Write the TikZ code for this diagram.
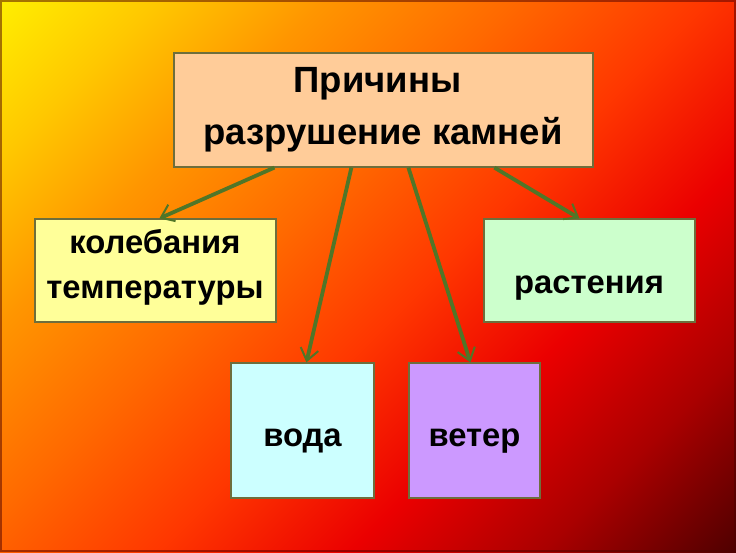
\documentclass[tikz,border=0pt]{standalone}
\usepackage{fontspec}
\setmainfont{Liberation Sans}
\usetikzlibrary{arrows.meta}
\definecolor{bgA}{RGB}{255,238,0}
\definecolor{bgB}{RGB}{255,200,0}
\definecolor{bgC}{RGB}{255,150,0}
\definecolor{bgD}{RGB}{255,105,0}
\definecolor{bgE}{RGB}{255,55,0}
\definecolor{bgF}{RGB}{235,0,0}
\definecolor{bgG}{RGB}{170,0,0}
\definecolor{bgH}{RGB}{80,0,0}
\definecolor{boxline}{RGB}{110,110,60}
\definecolor{arrowc}{RGB}{80,118,40}
\definecolor{peach}{RGB}{255,204,153}
\definecolor{lyellow}{RGB}{255,255,153}
\definecolor{lgreen}{RGB}{204,255,204}
\definecolor{lcyan}{RGB}{204,255,255}
\definecolor{lviolet}{RGB}{204,153,255}
\pgfdeclarehorizontalshading{slidebg}{100bp}{%
  color(0bp)=(bgA); color(14.6bp)=(bgA); color(23.1bp)=(bgB);
  color(32.3bp)=(bgC); color(42.9bp)=(bgD); color(53.5bp)=(bgE);
  color(64.2bp)=(bgF); color(74.8bp)=(bgG); color(85.4bp)=(bgH);
  color(100bp)=(bgH)}
\tikzset{
  box/.style={draw=boxline, line width=1.2pt, rectangle, inner sep=0pt},
  lbl/.style={anchor=base, inner sep=0pt, font=\fontsize{32.8}{38}\selectfont\bfseries},
  biglbl/.style={anchor=base, inner sep=0pt, font=\fontsize{36.5}{42}\selectfont\bfseries},
  arr/.style={draw=arrowc, line width=3.8pt,
    -{Straight Barb[length=12pt,width=18pt,line width=2pt]}},
}
\begin{document}
\begin{tikzpicture}[x=1pt,y=-1pt]
\useasboundingbox (0,0) rectangle (736,552);
\shade[shading=slidebg, shading angle=-45] (0,0) rectangle (736,552);
\draw[black!70!red, opacity=0.5, line width=1.2pt] (1,1) rectangle (735,551);
% boxes
\node[box, fill=peach, minimum width=419pt, minimum height=114pt] (top) at (383.5,110) {};
\node[box, fill=lyellow, minimum width=241pt, minimum height=103pt] (kol) at (155.5,270.5) {};
\node[box, fill=lgreen, minimum width=211pt, minimum height=103pt] (rast) at (589.5,270.5) {};
\node[box, fill=lcyan, minimum width=143pt, minimum height=135pt] (voda) at (302.5,430.5) {};
\node[box, fill=lviolet, minimum width=131pt, minimum height=135pt] (veter) at (474.5,430.5) {};
% labels
\node[biglbl] (t1) at (377.5,92) {Причины};
\node[biglbl] (t2) at (383,144) {разрушение камней};
\node[lbl] (k1) at (155,253) {колебания};
\node[lbl] (k2) at (155,298) {температуры};
\node[lbl] (r1) at (589,293) {растения};
\node[lbl] (v1) at (302.5,446) {вода};
\node[lbl] (w1) at (474.5,446) {ветер};
% arrow anchors
\coordinate (a1s) at ([xshift=101pt]top.south west);
\coordinate (a2s) at ([xshift=178pt]top.south west);
\coordinate (a3s) at ([xshift=235pt]top.south west);
\coordinate (a4s) at ([xshift=321pt]top.south west);
\coordinate (a1e) at ([xshift=125pt]kol.north west);
\coordinate (a2e) at ([xshift=76pt]voda.north west);
\coordinate (a3e) at ([xshift=62pt]veter.north west);
\coordinate (a4e) at ([xshift=96pt]rast.north west);
\draw[arr] (a1s) -- (a1e);
\draw[arr] (a2s) -- (a2e);
\draw[arr] (a3s) -- (a3e);
\draw[arr] (a4s) -- (a4e);
\end{tikzpicture}
\end{document}
